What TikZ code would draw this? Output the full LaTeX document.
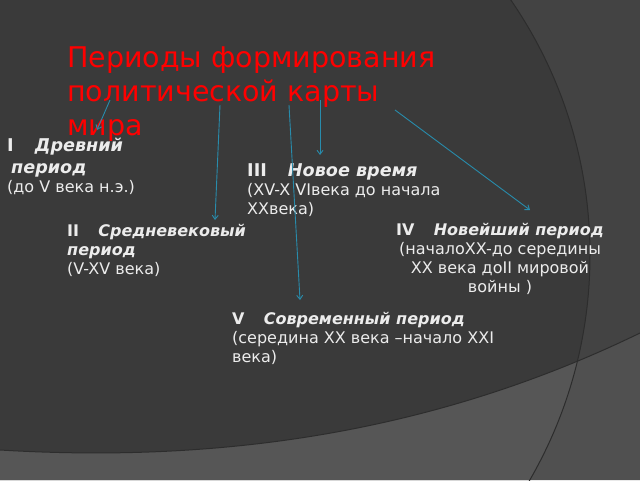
\documentclass[tikz,border=0pt]{standalone}
\usepackage{fontspec}
\setmainfont{DejaVu Sans}
\usetikzlibrary{arrows.meta}
\definecolor{bgdark}{RGB}{58,58,58}
\definecolor{bgright}{RGB}{67,67,67}
\definecolor{bandin}{RGB}{86,86,86}
\definecolor{bandout}{RGB}{80,80,80}
\definecolor{edgecol}{RGB}{45,45,45}
\definecolor{teal}{RGB}{40,140,172}
\definecolor{txt}{RGB}{236,236,236}
\definecolor{ttlred}{RGB}{255,0,0}
\tikzset{
  ttl/.style={font=\fontsize{28.5}{34}\selectfont, text=ttlred, align=left, inner sep=0pt, anchor=base west},
  item/.style={font=\fontsize{16}{19}\selectfont, text=txt, align=left, inner sep=0pt, anchor=base west},
  itemc/.style={item, align=center, anchor=base},
  link/.style={draw=teal, line width=0.9pt, -{Straight Barb[length=4pt,width=6pt]}},
  bgedge/.style={draw=edgecol, line width=1pt}
}
\newcommand{\rn}[1]{\textbf{#1}\hspace{1.2em}}
\newcommand{\bi}[1]{\textbf{\textit{#1}}}
\newcommand{\bigger}{\fontsize{17.6}{19}\selectfont}
\begin{document}
\begin{tikzpicture}[x=1pt,y=-1pt]
\useasboundingbox (0,0) rectangle (640,480);
% background
\begin{scope}
\clip (0,0) rectangle (640,480);
\fill[bgright] (0,0) rectangle (640,480);
\fill[bandout] (0,450) .. controls (200,462) and (420,440) .. (640,333) -- (640,480) -- (0,480) -- cycle;
\begin{scope}
\clip (140,255) circle[radius=450pt];
\fill[bgdark] (0,0) rectangle (640,480);
\fill[bandin] (0,450) .. controls (200,462) and (420,440) .. (640,333) -- (640,480) -- (0,480) -- cycle;
\end{scope}
\draw[bgedge] (140,255) circle[radius=450pt];
\draw[bgedge] (0,450) .. controls (200,462) and (420,440) .. (640,333);
\end{scope}
% title (anchor = baseline of its last line)
\node[ttl] (title) at (67,135) {Периоды формирования\\политической карты\\мира};
% items (anchor = baseline of the last line)
\node[item] (p1) at (7,192) {{\bigger\rn{I}\bi{Древний}}\\[3pt]{\bigger\hspace*{4pt}\bi{период}}\\(до V века н.э.)};
\node[item] (p2) at (67,274) {\rn{II}\bi{Средневековый}\\\bi{период}\\(V-XV века)};
\node[item] (p3) at (247,214) {{\bigger\rn{III}\bi{Новое время}}\\(XV-X VIвека до начала\\XXвека)};
\node[itemc] (p4) at (500,292) {\rn{IV}\bi{Новейший период}\\(началоXX-до середины\\XX века доII мировой\\войны )};
\node[item] (p5) at (232,362) {\rn{V}\bi{Современный период}\\(середина XX века –начало XXI\\века)};
% arrow ends
\coordinate (s1) at (110,100); \coordinate (e1) at (97,130);
\coordinate (s2) at (220,105); \coordinate (e2) at (215,220);
\coordinate (s3) at (289,105); \coordinate (e3) at (300,300);
\coordinate (s4) at (320,100); \coordinate (e4) at (320,155);
\coordinate (s5) at (395,110); \coordinate (e5) at (530,210);
\draw[link] (s1) -- (e1);
\draw[link] (s2) -- (e2);
\draw[link] (s3) -- (e3);
\draw[link] (s4) -- (e4);
\draw[link] (s5) -- (e5);
\end{tikzpicture}
\end{document}
